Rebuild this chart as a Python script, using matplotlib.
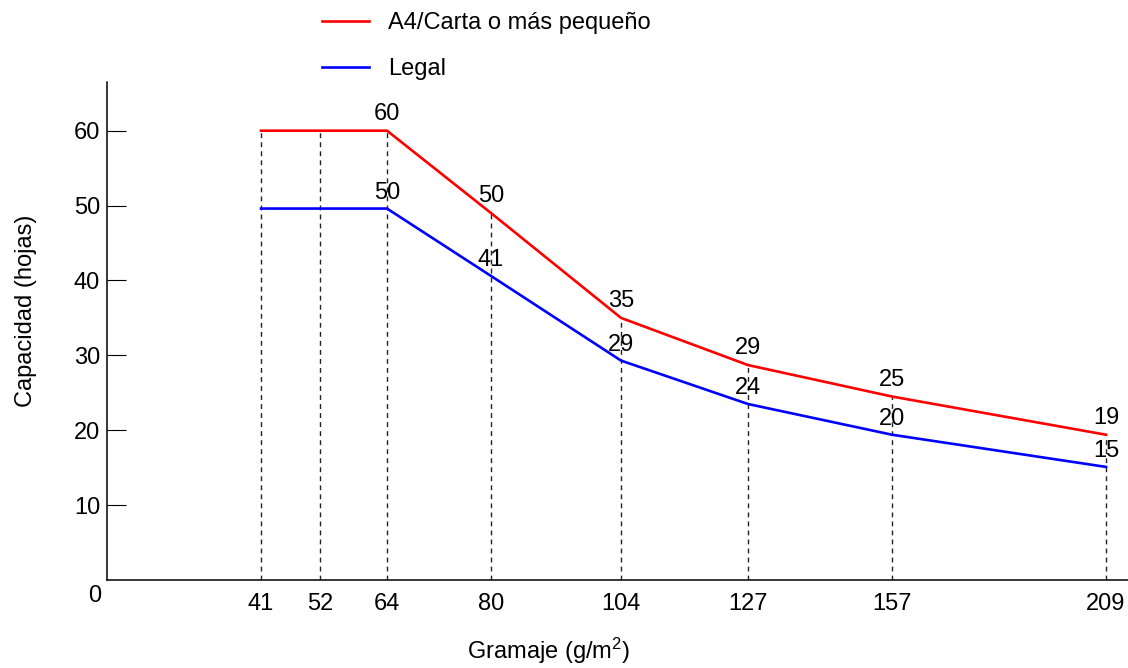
import numpy as np
import matplotlib
matplotlib.use("Agg")
import matplotlib.pyplot as plt

plt.rcParams['font.family'] = ['Liberation Sans', 'DejaVu Sans']
plt.rcParams['mathtext.fontset'] = 'custom'
plt.rcParams['mathtext.rm'] = 'Liberation Sans'
plt.rcParams['mathtext.it'] = 'Liberation Sans:italic'

# Gramaje (g/m2) and paper capacity (sheets)
gramaje = [41, 52, 64, 80, 104, 127, 157, 209]
carta_curve = [60, 60, 60, 49.0, 35.0, 28.7, 24.5, 19.4]
legal_curve = [49.6, 49.6, 49.6, 40.6, 29.3, 23.5, 19.4, 15.1]

# labelled values (shown from 64 g/m2 onwards)
label_gramaje = [64, 80, 104, 127, 157, 209]
carta_labels = [60, 50, 35, 29, 25, 19]
legal_labels = [50, 41, 29, 24, 20, 15]

y_ticks = [10, 20, 30, 40, 50, 60]

# the x axis is not linear: piecewise mapping gramaje -> screen slot
slot_gsm = [0, 41, 52, 64, 80, 104, 127, 157, 209, 214.4]
slot_pos = [107, 261, 320, 387, 491, 621, 748, 892, 1106, 1128]


def fwd(v):
    return np.interp(v, slot_gsm, slot_pos)


def inv(p):
    return np.interp(p, slot_pos, slot_gsm)


fs = 17

fig = plt.figure(figsize=(11.28, 6.68), dpi=100)
ax = fig.add_axes([107 / 1128, 88 / 668, 1 - 107 / 1128, (580 - 82) / 668])
ax.set_xscale('function', functions=(fwd, inv))
ax.set_xlim(0, 214.4)
ax.set_ylim(0, 66.5)

# dashed guides from the top curve down to the axis
ax.vlines(gramaje, 0, carta_curve, colors='#222222', linestyles=(0, (3.5, 3)), lw=1.0, zorder=1)

ax.plot(gramaje, carta_curve, color='#ff0000', lw=1.9, label='A4/Carta o más pequeño', zorder=3)
ax.plot(gramaje, legal_curve, color='#0000ff', lw=1.9, label='Legal', zorder=3)

for g, lab in zip(label_gramaje, carta_labels):
    yv = carta_curve[gramaje.index(g)]
    ax.annotate(str(lab), xy=(g, yv), xytext=(0, 11), textcoords='offset pixels',
                ha='center', va='baseline', fontsize=fs)
for g, lab in zip(label_gramaje, legal_labels):
    yv = legal_curve[gramaje.index(g)]
    ax.annotate(str(lab), xy=(g, yv), xytext=(0, 10), textcoords='offset pixels',
                ha='center', va='baseline', fontsize=fs)

ax.annotate('0', xy=(0, 0), xytext=(-12, -16), textcoords='offset pixels',
            ha='center', va='center', fontsize=fs, annotation_clip=False)

ax.set_xticks(gramaje)
ax.set_xticklabels([str(g) for g in gramaje])
ax.set_yticks(y_ticks)
ax.tick_params(axis='x', length=0, pad=9, labelsize=fs)
ax.tick_params(axis='y', direction='in', length=13.5, width=0.8, pad=5, labelsize=fs)

for s in ['top', 'right']:
    ax.spines[s].set_visible(False)
for s in ['left', 'bottom']:
    ax.spines[s].set_linewidth(1.1)

ax.set_xlabel('Gramaje (g/m$^2$)', fontsize=fs)
ax.xaxis.set_label_coords(0.432, -0.113)
ax.set_ylabel('Capacidad (hojas)', fontsize=fs)
ax.yaxis.set_label_coords(-0.069, 0.54)

ax.legend(loc='upper left', bbox_to_anchor=(322 / 1128, 1 - 12 / 668), bbox_transform=fig.transFigure,
          frameon=False, fontsize=fs, handlelength=2.0, handletextpad=0.8,
          labelspacing=1.03, borderpad=0, borderaxespad=0)

fig.savefig('out.png', dpi=100)
